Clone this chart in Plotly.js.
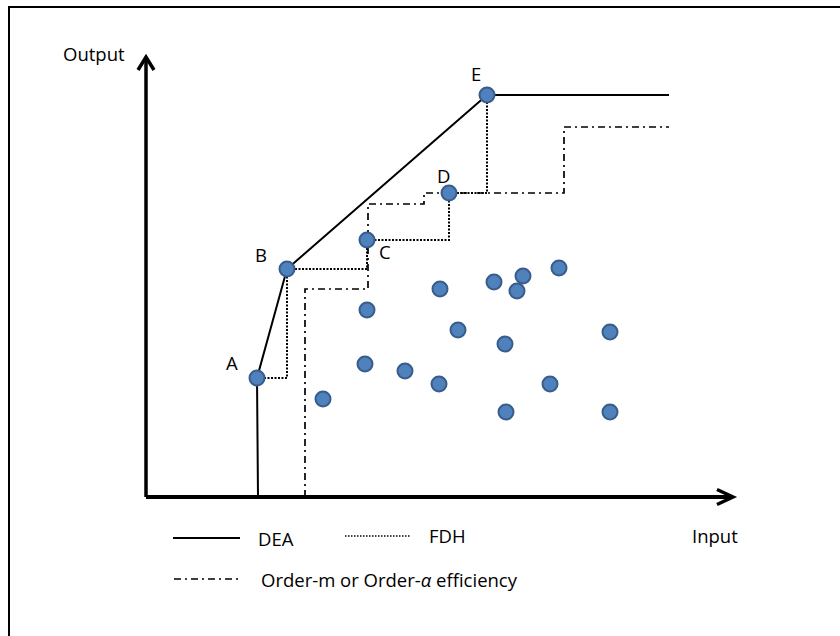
<!DOCTYPE html>
<html>
<head>
<meta charset="utf-8">
<script src="https://cdn.plot.ly/plotly-3.0.1.min.js"></script>
<style>html,body{margin:0;padding:0;background:#fff;}#chart{width:840px;height:636px;}</style>
</head>
<body>
<div id="chart"></div>
<script>
// ---- data (input / output units) ----
const frontierLabels = ["A", "B", "C", "D", "E"];
const frontierInput  = [11.1, 14.1, 22.1, 30.3, 34.1];
const frontierOutput = [11.9, 22.8, 25.7, 30.4, 40.2];

const otherInput  = [22.1, 29.4, 34.8, 37.7, 37.1, 41.3, 31.2, 35.9, 46.4, 21.9, 25.9, 29.3, 40.4, 17.7, 36.0, 46.4];
const otherOutput = [18.7, 20.8, 21.5, 22.1, 20.6, 22.9, 16.7, 15.3, 16.5, 13.3, 12.6, 11.3, 11.3, 9.8, 8.5, 8.5];

const deaInput  = [11.2, 11.1, 14.1, 34.1, 52.3];
const deaOutput = [0, 11.9, 22.8, 40.2, 40.2];

const fdhInput  = [11.1, 14.1, 14.1, 22.1, 22.1, 30.3, 30.3, 34.1, 34.1];
const fdhOutput = [11.9, 11.9, 22.8, 22.8, 25.7, 25.7, 30.4, 30.4, 40.2];

const orderInput  = [15.9, 15.9, 22.2, 22.2, 27.8, 27.8, 41.8, 41.8, 52.3];
const orderOutput = [0, 20.8, 20.8, 29.3, 29.3, 30.4, 30.4, 37.0, 37.0];

const axisMaxInput = 58.7;
const axisMaxOutput = 44.0;

const xTitle = "Input";
const yTitle = "Output";
const legendNames = ["DEA", "FDH", "Order-m or Order-<i>α</i> efficiency"];

// ---- helpers ----
const W = 840, H = 636;
const px = v => v / W;
const py = v => 1 - v / H;
const FONT = {family: "Open Sans, sans-serif", size: 18.5, color: "#000"};

const markerStyle = {size: 15, color: "#4F81BD", line: {color: "#385D8A", width: 2}};

const traces = [
  {x: orderInput, y: orderOutput, mode: "lines", line: {color: "#000", width: 1.7, dash: "7px,4px,2px,4px"}, hoverinfo: "skip"},
  {x: fdhInput, y: fdhOutput, mode: "lines", line: {color: "#000", width: 2, dash: "2px,1.5px"}, hoverinfo: "skip"},
  {x: deaInput, y: deaOutput, mode: "lines", line: {color: "#000", width: 2}, hoverinfo: "skip"},
  {x: otherInput, y: otherOutput, mode: "markers", marker: markerStyle},
  {x: frontierInput, y: frontierOutput, mode: "markers", marker: markerStyle}
];

const labelShift = {A: [-25, 16], B: [-26, 15], C: [18, -11], D: [-6, 18], E: [-11, 22]};
const annotations = frontierLabels.map((l, i) => ({
  x: frontierInput[i], y: frontierOutput[i], xref: "x", yref: "y",
  text: l, showarrow: false, xshift: labelShift[l][0], yshift: labelShift[l][1],
  font: FONT
}));

annotations.push(
  {xref: "paper", yref: "paper", x: px(61), y: py(53), xanchor: "left", yanchor: "middle", text: yTitle, showarrow: false, font: FONT},
  {xref: "paper", yref: "paper", x: px(690), y: py(535), xanchor: "left", yanchor: "middle", text: xTitle, showarrow: false, font: FONT},
  {xref: "paper", yref: "paper", x: px(256), y: py(538), xanchor: "left", yanchor: "middle", text: legendNames[0], showarrow: false, font: FONT},
  {xref: "paper", yref: "paper", x: px(427), y: py(535), xanchor: "left", yanchor: "middle", text: legendNames[1], showarrow: false, font: FONT},
  {xref: "paper", yref: "paper", x: px(259), y: py(579), xanchor: "left", yanchor: "middle", text: legendNames[2], showarrow: false, font: FONT}
);

const shapes = [
  // frame
  {type: "path", xref: "paper", yref: "paper", path: `M ${px(9)},${py(636)} L ${px(9)},${py(7)} L ${px(840)},${py(7)}`, line: {color: "#000", width: 2}},
  // axes
  {type: "line", xref: "x", yref: "y", x0: 0, y0: 0, x1: axisMaxInput, y1: 0, line: {color: "#000", width: 4}},
  {type: "line", xref: "x", yref: "y", x0: 0, y0: 0, x1: 0, y1: axisMaxOutput, line: {color: "#000", width: 3.5}},
  {type: "path", xref: "x", yref: "y", path: `M ${axisMaxInput - 1.6},0.75 L ${axisMaxInput},0 L ${axisMaxInput - 1.6},-0.75`, line: {color: "#000", width: 3.5}},
  {type: "path", xref: "x", yref: "y", path: `M -0.8,${axisMaxOutput - 1.3} L 0,${axisMaxOutput} L 0.8,${axisMaxOutput - 1.3}`, line: {color: "#000", width: 3.5}},
  // legend samples
  {type: "line", xref: "paper", yref: "paper", x0: px(173), y0: py(538), x1: px(240), y1: py(538), line: {color: "#000", width: 2}},
  {type: "line", xref: "paper", yref: "paper", x0: px(345), y0: py(536), x1: px(410), y1: py(536), line: {color: "#000", width: 1.5, dash: "1.5px,1.5px"}},
  {type: "line", xref: "paper", yref: "paper", x0: px(174), y0: py(579), x1: px(238), y1: py(579), line: {color: "#000", width: 1.7, dash: "7px,4px,2px,4px"}}
];

const layout = {
  width: W, height: H,
  margin: {l: 0, r: 0, t: 0, b: 0},
  paper_bgcolor: "#fff", plot_bgcolor: "#fff",
  showlegend: false,
  xaxis: {range: [-14.6, 69.4], visible: false, fixedrange: true},
  yaxis: {range: [-13.9, 49.7], visible: false, fixedrange: true},
  shapes: shapes,
  annotations: annotations
};

Plotly.newPlot("chart", traces, layout, {displayModeBar: false, staticPlot: true});
</script>
</body>
</html>
